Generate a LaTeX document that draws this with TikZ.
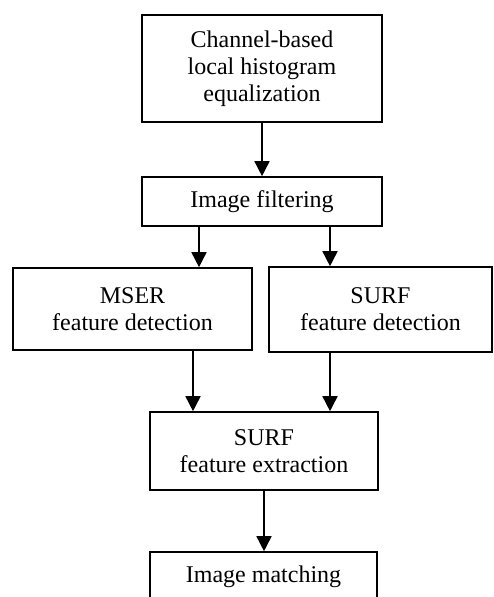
\documentclass[tikz,border=0pt]{standalone}
\usepackage{fontspec}
\setmainfont{Liberation Serif}
\usetikzlibrary{arrows.meta}

\begin{document}
\begin{tikzpicture}[x=0.5pt, y=-0.5pt,
    stepbox/.style={draw, line width=0.8pt, align=center, inner sep=0pt,
      font=\fontsize{12}{13.5}\selectfont},
    arr/.style={line width=0.8pt, -{Triangle[length=7.5pt,width=7.5pt]}}]
    \useasboundingbox (0,0) rectangle (493,597);
    \clip (0,0) rectangle (493,597);
    \node[stepbox, minimum width=120pt, minimum height=53.5pt] (chan) at (262,68.5) {Channel-based\\local histogram\\equalization};
    \node[stepbox, minimum width=120pt, minimum height=24.5pt] (filt) at (262,201.5) {Image filtering};
    \node[stepbox, minimum width=119.5pt, minimum height=41pt] (mser) at (132.5,309) {MSER\\feature detection};
    \node[stepbox, minimum width=111.5pt, minimum height=42.5pt] (surfd) at (380.5,309.5) {SURF\\feature detection};
    \node[stepbox, minimum width=114pt, minimum height=39pt] (surfe) at (264,451) {SURF\\feature extraction};
    \node[stepbox, minimum width=113.5pt, minimum height=25pt] (match) at (263.5,577) {Image matching};
    % connectors
    \coordinate (fl) at ([xshift=-31.5pt]filt.south);
    \coordinate (fr) at ([xshift=34pt]filt.south);
    \coordinate (ml) at ([xshift=30.25pt]mser.south);
    \coordinate (sr) at ([xshift=-25.25pt]surfd.south);
    \draw[arr] (chan.south) -- (filt.north);
    \draw[arr] (fl) -- (fl |- mser.north);
    \draw[arr] (fr) -- (fr |- surfd.north);
    \draw[arr] (ml) -- (ml |- surfe.north);
    \draw[arr] (sr) -- (sr |- surfe.north);
    \draw[arr] (surfe.south) -- (surfe.south |- match.north);
\end{tikzpicture}
\end{document}
